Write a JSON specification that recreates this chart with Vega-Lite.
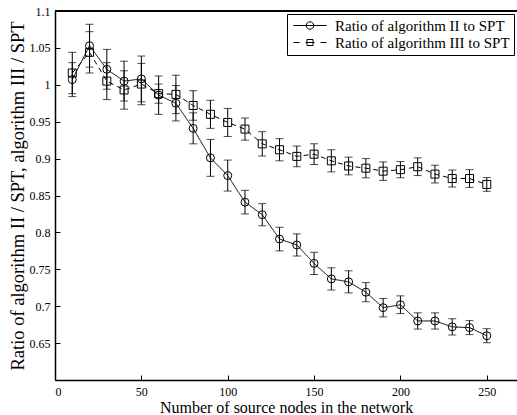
{
  "$schema": "https://vega.github.io/schema/vega-lite/v6.json",
  "width": 462,
  "height": 369,
  "autosize": {"type": "none"},
  "padding": {"left": 55, "top": 11, "right": 0, "bottom": 35},
  "background": "white",
  "config": {
    "view": {"stroke": null},
    "font": "Liberation Serif",
    "legend": {"labelFont": "Liberation Serif", "labelLimit": 400},
    "axis": {
      "grid": false,
      "domainColor": "black",
      "domainWidth": 1.5,
      "tickColor": "black",
      "tickSize": -5,
      "labelColor": "black",
      "labelFont": "Liberation Serif",
      "labelFontSize": 12,
      "titleFont": "Liberation Serif",
      "titleFontWeight": "normal",
      "titleColor": "black",
      "titleLimit": 1000
    }
  },
  "datasets": {
    "topticks": [{"t": 0}, {"t": 50}, {"t": 100}, {"t": 150}, {"t": 200}, {"t": 250}]
  },
  "data": {
    "values": [
      {"x": 10, "series": "Ratio of algorithm II to SPT", "y": 1.007, "err": 0.023},
      {"x": 20, "series": "Ratio of algorithm II to SPT", "y": 1.053, "err": 0.029},
      {"x": 30, "series": "Ratio of algorithm II to SPT", "y": 1.021, "err": 0.027},
      {"x": 40, "series": "Ratio of algorithm II to SPT", "y": 1.005, "err": 0.027},
      {"x": 50, "series": "Ratio of algorithm II to SPT", "y": 1.008, "err": 0.031},
      {"x": 60, "series": "Ratio of algorithm II to SPT", "y": 0.986, "err": 0.026},
      {"x": 70, "series": "Ratio of algorithm II to SPT", "y": 0.975, "err": 0.024},
      {"x": 80, "series": "Ratio of algorithm II to SPT", "y": 0.941, "err": 0.021},
      {"x": 90, "series": "Ratio of algorithm II to SPT", "y": 0.901, "err": 0.025},
      {"x": 100, "series": "Ratio of algorithm II to SPT", "y": 0.877, "err": 0.021},
      {"x": 110, "series": "Ratio of algorithm II to SPT", "y": 0.841, "err": 0.016},
      {"x": 120, "series": "Ratio of algorithm II to SPT", "y": 0.824, "err": 0.015},
      {"x": 130, "series": "Ratio of algorithm II to SPT", "y": 0.791, "err": 0.016},
      {"x": 140, "series": "Ratio of algorithm II to SPT", "y": 0.783, "err": 0.015},
      {"x": 150, "series": "Ratio of algorithm II to SPT", "y": 0.758, "err": 0.015},
      {"x": 160, "series": "Ratio of algorithm II to SPT", "y": 0.737, "err": 0.015},
      {"x": 170, "series": "Ratio of algorithm II to SPT", "y": 0.733, "err": 0.015},
      {"x": 180, "series": "Ratio of algorithm II to SPT", "y": 0.719, "err": 0.013},
      {"x": 190, "series": "Ratio of algorithm II to SPT", "y": 0.698, "err": 0.0125},
      {"x": 200, "series": "Ratio of algorithm II to SPT", "y": 0.702, "err": 0.012},
      {"x": 210, "series": "Ratio of algorithm II to SPT", "y": 0.68, "err": 0.011},
      {"x": 220, "series": "Ratio of algorithm II to SPT", "y": 0.68, "err": 0.011},
      {"x": 230, "series": "Ratio of algorithm II to SPT", "y": 0.672, "err": 0.011},
      {"x": 240, "series": "Ratio of algorithm II to SPT", "y": 0.671, "err": 0.0095},
      {"x": 250, "series": "Ratio of algorithm II to SPT", "y": 0.66, "err": 0.0095},
      {"x": 10, "series": "Ratio of algorithm III to SPT", "y": 1.016, "err": 0.028},
      {"x": 20, "series": "Ratio of algorithm III to SPT", "y": 1.044, "err": 0.028},
      {"x": 30, "series": "Ratio of algorithm III to SPT", "y": 1.005, "err": 0.025},
      {"x": 40, "series": "Ratio of algorithm III to SPT", "y": 0.993, "err": 0.026},
      {"x": 50, "series": "Ratio of algorithm III to SPT", "y": 1.001, "err": 0.028},
      {"x": 60, "series": "Ratio of algorithm III to SPT", "y": 0.988, "err": 0.013},
      {"x": 70, "series": "Ratio of algorithm III to SPT", "y": 0.987, "err": 0.026},
      {"x": 80, "series": "Ratio of algorithm III to SPT", "y": 0.972, "err": 0.02},
      {"x": 90, "series": "Ratio of algorithm III to SPT", "y": 0.96, "err": 0.019},
      {"x": 100, "series": "Ratio of algorithm III to SPT", "y": 0.949, "err": 0.019},
      {"x": 110, "series": "Ratio of algorithm III to SPT", "y": 0.94, "err": 0.015},
      {"x": 120, "series": "Ratio of algorithm III to SPT", "y": 0.92, "err": 0.0165},
      {"x": 130, "series": "Ratio of algorithm III to SPT", "y": 0.912, "err": 0.015},
      {"x": 140, "series": "Ratio of algorithm III to SPT", "y": 0.903, "err": 0.014},
      {"x": 150, "series": "Ratio of algorithm III to SPT", "y": 0.906, "err": 0.014},
      {"x": 160, "series": "Ratio of algorithm III to SPT", "y": 0.897, "err": 0.015},
      {"x": 170, "series": "Ratio of algorithm III to SPT", "y": 0.89, "err": 0.012},
      {"x": 180, "series": "Ratio of algorithm III to SPT", "y": 0.887, "err": 0.013},
      {"x": 190, "series": "Ratio of algorithm III to SPT", "y": 0.883, "err": 0.0125},
      {"x": 200, "series": "Ratio of algorithm III to SPT", "y": 0.885, "err": 0.011},
      {"x": 210, "series": "Ratio of algorithm III to SPT", "y": 0.889, "err": 0.012},
      {"x": 220, "series": "Ratio of algorithm III to SPT", "y": 0.879, "err": 0.012},
      {"x": 230, "series": "Ratio of algorithm III to SPT", "y": 0.873, "err": 0.0115},
      {"x": 240, "series": "Ratio of algorithm III to SPT", "y": 0.873, "err": 0.012},
      {"x": 250, "series": "Ratio of algorithm III to SPT", "y": 0.865, "err": 0.0093}
    ]
  },
  "resolve": {"scale": {"shape": "independent"}},
  "encoding": {
    "x": {
      "field": "x", "type": "quantitative",
      "scale": {"domain": [0, 267.5], "nice": false, "zero": false},
      "title": "Number of source nodes in the network",
      "axis": {"values": [0, 50, 100, 150, 200, 250], "labelPadding": 11, "titlePadding": 2, "titleFontSize": 16}
    },
    "y": {
      "field": "y", "type": "quantitative",
      "scale": {"domain": [0.6, 1.1], "nice": false, "zero": false},
      "title": "Ratio of algorithm II / SPT, algorithm III / SPT",
      "axis": {
        "values": [0.65, 0.7, 0.75, 0.8, 0.85, 0.9, 0.95, 1, 1.05, 1.1],
        "format": "~g",
        "labelPadding": 10,
        "titlePadding": 2,
        "titleFontSize": 18.5
      }
    }
  },
  "layer": [
    {
      "mark": {"type": "rule", "color": "black", "strokeWidth": 1.5},
      "encoding": {
        "x": {"datum": 0},
        "x2": {"datum": 267.5},
        "y": {"datum": 1.1}
      }
    },
    {
      "data": {"name": "topticks"},
      "mark": {"type": "rule", "color": "black", "strokeWidth": 1},
      "encoding": {
        "x": {"field": "t", "type": "quantitative"},
        "y": {"datum": 1.1},
        "y2": {"datum": 1.0932}
      }
    },
    {
      "mark": {"type": "line", "color": "black", "strokeWidth": 1},
      "encoding": {
        "strokeDash": {
          "field": "series", "type": "nominal",
          "scale": {"domain": ["Ratio of algorithm II to SPT", "Ratio of algorithm III to SPT"], "range": [[1, 0], [5, 4]]},
          "legend": null
        }
      }
    },
    {
      "mark": {"type": "errorbar", "color": "black", "thickness": 1, "ticks": {"size": 8, "thickness": 1, "color": "black"}},
      "encoding": {
        "yError": {"field": "err"}
      }
    },
    {
      "mark": {"type": "point", "filled": false, "color": "black", "opacity": 1, "strokeWidth": 1},
      "encoding": {
        "shape": {
          "field": "series", "type": "nominal",
          "scale": {"domain": ["Ratio of algorithm II to SPT", "Ratio of algorithm III to SPT"], "range": ["circle", "square"]},
          "legend": null
        },
        "size": {"value": 64}
      }
    },
    {
      "mark": {"type": "point", "filled": false, "color": "black", "opacity": 0, "strokeWidth": 1},
      "encoding": {
        "shape": {
          "field": "series", "type": "nominal",
          "scale": {
            "domain": ["Ratio of algorithm II to SPT", "Ratio of algorithm III to SPT"],
            "range": [
              "M-3.3,0H3.3M-0.75,0A0.75,0.75 0 1,0 0.75,0A0.75,0.75 0 1,0 -0.75,0",
              "M-3.3,0H-2.1M-0.9,0H0.9M2.1,0H3.3M-0.6,-0.6H0.6V0.6H-0.6Z"
            ]
          },
          "legend": {
            "title": null,
            "orient": "top-right",
            "offset": 3,
            "strokeColor": "black",
            "fillColor": "white",
            "padding": 4,
            "rowPadding": 1,
            "symbolSize": 100,
            "symbolOffset": 11.5,
            "labelOffset": 17.5,
            "labelLimit": 400,
            "symbolOpacity": 1,
            "symbolStrokeColor": "black",
            "symbolFillColor": "transparent",
            "symbolStrokeWidth": 1,
            "labelFont": "Liberation Serif",
            "labelFontSize": 15,
            "labelColor": "black"
          }
        }
      }
    }
  ]
}
